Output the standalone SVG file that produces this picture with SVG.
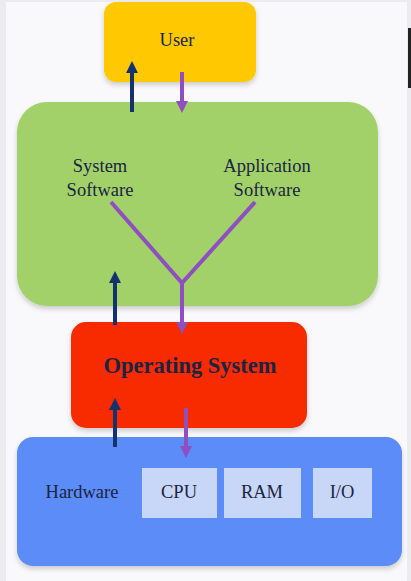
<svg xmlns="http://www.w3.org/2000/svg" width="411" height="581" viewBox="0 0 411 581">
<style>
.lbl{font-family:"Liberation Serif","Times New Roman",serif;fill:#1b2440;text-anchor:middle}
.n{font-size:18.5px}
.up{stroke:#12336e;stroke-width:4;fill:none}
.dn{stroke:#8f4fc0;stroke-width:4;fill:none}
</style>
<defs>
<marker id="hUp" viewBox="0 0 10 10" refX="5" refY="5" markerWidth="3" markerHeight="3" orient="auto" markerUnits="strokeWidth">
<path d="M0,0 L10,5 L0,10 z" fill="#12336e"/>
</marker>
<marker id="hDn" viewBox="0 0 10 10" refX="5" refY="5" markerWidth="3" markerHeight="3" orient="auto" markerUnits="strokeWidth">
<path d="M0,0 L10,5 L0,10 z" fill="#8f4fc0"/>
</marker>
<filter id="sh" x="-10%" y="-10%" width="120%" height="130%">
<feDropShadow dx="0" dy="3" stdDeviation="2.5" flood-color="#000" flood-opacity="0.18"/>
</filter>
</defs>
<rect x="0" y="0" width="411" height="581" fill="#ececf0"/>
<rect x="6" y="2" width="401" height="579" fill="#f9f9fb"/>
<rect x="408" y="28" width="3" height="60" fill="#222"/>

<g id="user">
<rect x="104" y="2" width="152" height="80" rx="12" fill="#ffc800" filter="url(#sh)"/>
<text class="lbl n" x="177" y="46">User</text>
</g>
<g id="software">
<rect x="17" y="102" width="361" height="204" rx="30" fill="#a2d16a" filter="url(#sh)"/>
<text class="lbl n" x="100" y="172">System</text>
<text class="lbl n" x="100" y="196">Software</text>
<text class="lbl n" x="267" y="172">Application</text>
<text class="lbl n" x="267" y="196">Software</text>
</g>
<g id="os">
<rect x="71" y="322" width="236" height="106" rx="15" fill="#f72c00" filter="url(#sh)"/>
<text class="lbl" x="190" y="373" font-size="22.5" font-weight="bold">Operating System</text>
</g>
<g id="hardware">
<rect x="17" y="437" width="385" height="129" rx="16" fill="#5b8cf7" filter="url(#sh)"/>
<text class="lbl n" x="82" y="498">Hardware</text>
</g>
<g id="cpu">
<rect x="142" y="468" width="75" height="50" fill="#c8d6f8"/>
<text class="lbl n" x="179" y="498">CPU</text>
</g>
<g id="ram">
<rect x="224" y="468" width="77" height="50" fill="#c8d6f8"/>
<text class="lbl n" x="262" y="498">RAM</text>
</g>
<g id="io">
<rect x="313" y="468" width="59" height="50" fill="#c8d6f8"/>
<text class="lbl n" x="342" y="498">I/O</text>
</g>

<g id="connectors">
<line class="up" x1="132" y1="112" x2="132" y2="67" marker-end="url(#hUp)"/>
<line class="dn" x1="182" y1="72" x2="182" y2="107" marker-end="url(#hDn)"/>
<polyline class="dn" points="111,202 182,283 255,202"/>
<line class="dn" x1="182" y1="283" x2="182" y2="328" marker-end="url(#hDn)"/>
<line class="up" x1="115" y1="325" x2="115" y2="277" marker-end="url(#hUp)"/>
<line class="up" x1="115" y1="447" x2="115" y2="404" marker-end="url(#hUp)"/>
<line class="dn" x1="186" y1="408" x2="186" y2="452" marker-end="url(#hDn)"/>
</g>
</svg>
